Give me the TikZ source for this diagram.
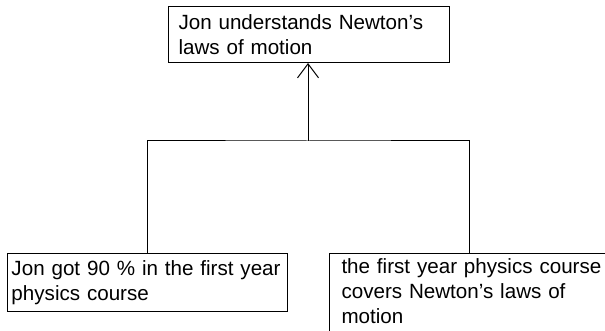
\documentclass[tikz,border=0pt]{standalone}
\usepackage{fontspec}
\setmainfont{Liberation Sans}
\usetikzlibrary{arrows.meta}
\begin{document}
\begin{tikzpicture}[x=1pt,y=-1pt,
  box/.style={draw, line width=1pt, rectangle, anchor=north west, align=left,
    font=\fontsize{20.6}{25}\selectfont, inner ysep=0pt},
  link/.style={line width=1pt},
  tip/.style={line width=1pt, -{Straight Barb[length=14pt,width=21pt,line width=1pt]}}]
\useasboundingbox (0,0) rectangle (605,331);
\node[box, minimum width=281pt, minimum height=56pt, text width=261pt, inner xsep=10pt] (top) at (168,6)
  {Jon understands Newton’s\\laws of motion};
\node[box, minimum width=280pt, minimum height=58pt, text width=272pt, inner xsep=4pt] (lb) at (7,253)
  {Jon got 90 \% in the first year\\physics course};
\node[box, minimum width=290pt, text width=266pt, inner xsep=12pt, inner ysep=5pt] (rb) at (329,253)
  {the first year physics course\\covers Newton’s laws of\\motion\rule[-25pt]{0pt}{25pt}};
\coordinate (j) at (308,141);
\draw[link] (lb.north) |- (j) -| ([xshift=-5pt]rb.north);
\draw[tip] (j) -- (j |- top.south);
\end{tikzpicture}
\end{document}
